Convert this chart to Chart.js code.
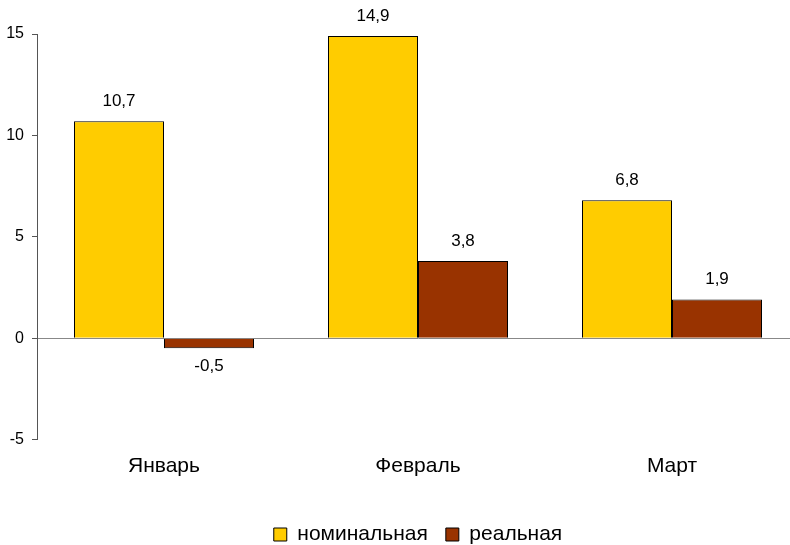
<!DOCTYPE html>
<html>
<head>
<meta charset="utf-8">
<script src="https://cdn.jsdelivr.net/npm/chart.js@4/dist/chart.umd.min.js"></script>
<style>
  html, body { margin: 0; padding: 0; background: #fff; overflow: hidden; }
  #wrap { position: absolute; left: 0; top: 0; width: 800px; height: 555px; }
</style>
</head>
<body>
<div id="wrap"><canvas id="chart"></canvas></div>
<script>
var months = ['Январь', 'Февраль', 'Март'];
var nominal = [10.7, 14.9, 6.8];
var real = [-0.5, 3.8, 1.9];
var yTicks = [-5, 0, 5, 10, 15];

var FONT = "'Liberation Sans', Arial, sans-serif";

function fmt(v) {
    return v.toFixed(1).replace('.', ',');
}

/* value labels over (or under) each bar */
var barLabels = {
    id: 'barLabels',
    afterDatasetsDraw: function(chart) {
        var ctx = chart.ctx;
        ctx.save();
        ctx.font = '17px ' + FONT;
        ctx.fillStyle = '#000';
        ctx.textAlign = 'center';
        ctx.textBaseline = 'middle';
        chart.data.datasets.forEach(function(ds, i) {
            chart.getDatasetMeta(i).data.forEach(function(bar, j) {
                var v = ds.data[j];
                var y = v >= 0 ? bar.y - 20 : bar.y + 18;
                ctx.fillText(fmt(v), bar.x, y);
            });
        });
        ctx.restore();
    }
};

new Chart(document.getElementById('chart'), {
    type: 'bar',
    data: {
        labels: months,
        datasets: [
            {
                label: 'номинальная',
                data: nominal,
                backgroundColor: '#FFCC00',
                borderColor: '#000',
                borderWidth: 1
            },
            {
                label: 'реальная',
                data: real,
                backgroundColor: '#993300',
                borderColor: '#000',
                borderWidth: 1
            }
        ]
    },
    options: {
        responsive: true,
        maintainAspectRatio: false,
        animation: false,
        events: [],
        layout: { padding: { top: 34, right: 1, left: 0, bottom: 0 } },
        datasets: {
            bar: { categoryPercentage: 180 / 254, barPercentage: 1 }
        },
        scales: {
            x: {
                grid: { display: false },
                border: { display: false },
                ticks: {
                    color: '#000',
                    padding: 6,
                    font: { family: FONT, size: 21 }
                },
                afterFit: function(s) { s.height = 66.5; }
            },
            y: {
                min: -5,
                max: 15,
                afterBuildTicks: function(s) {
                    s.ticks = yTicks.map(function(v) { return { value: v }; });
                },
                afterFit: function(s) { s.width = 37; },
                border: { display: true, color: '#555', width: 1 },
                grid: {
                    drawOnChartArea: true,
                    color: function(c) { return c.tick && c.tick.value === 0 ? '#888' : 'rgba(0,0,0,0)'; },
                    tickColor: '#555',
                    tickLength: 5,
                    lineWidth: 1
                },
                ticks: {
                    color: '#000',
                    padding: 8,
                    font: { family: FONT, size: 16 },
                    callback: function(v) { return String(v); }
                }
            }
        },
        plugins: {
            tooltip: { enabled: false },
            legend: {
                position: 'bottom',
                fullSize: false,
                labels: {
                    color: '#000',
                    boxWidth: 13,
                    boxHeight: 13,
                    padding: 18,
                    font: { family: FONT, size: 21 }
                }
            }
        }
    },
    plugins: [barLabels]
});
</script>
</body>
</html>
